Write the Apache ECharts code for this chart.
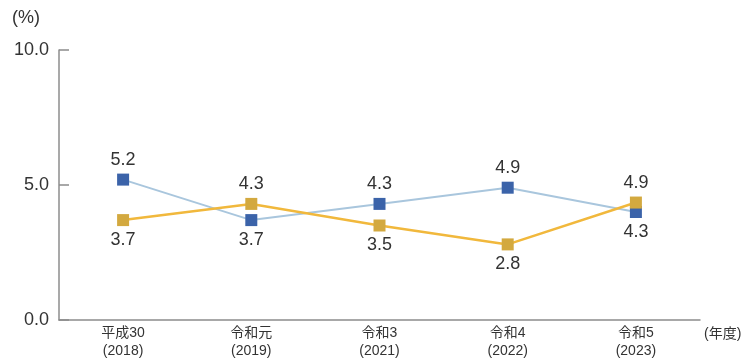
<!DOCTYPE html>
<html><head><meta charset="utf-8">
<script src="https://cdn.jsdelivr.net/npm/echarts@6/dist/echarts.min.js"></script>
<style>html,body{margin:0;padding:0;background:#fff}#c{width:744px;height:360px}</style>
</head><body><div id="c"></div>
<script>
const categories = ['平成30\n(2018)', '令和元\n(2019)', '令和3\n(2021)', '令和4\n(2022)', '令和5\n(2023)'];
const blueValues = [5.2, 3.7, 4.3, 4.9, 4.0];
const blueLabels = ['5.2', '3.7', '4.3', '4.9', '4.3'];
const bluePos = ['top', 'bottom', 'top', 'top', 'bottom'];
const orangeValues = [3.7, 4.3, 3.5, 2.8, 4.35];
const orangeLabels = ['3.7', '4.3', '3.5', '2.8', '4.9'];
const orangePos = ['bottom', 'top', 'bottom', 'bottom', 'top'];
const yTicks = [0, 5, 10];

const FONT = '"Liberation Sans", "Noto Sans CJK JP", sans-serif';
function mk(vals, labels, pos) {
  return vals.map((v, i) => ({ value: v, label: { position: pos[i], formatter: labels[i] } }));
}
const chart = echarts.init(document.getElementById('c'));
chart.setOption({
  animation: false,
  textStyle: { fontFamily: FONT },
  grid: { left: 59, right: 44, top: 50, bottom: 38, containLabel: false },
  xAxis: {
    type: 'category', data: categories, boundaryGap: true,
    axisLine: { lineStyle: { color: '#8c8c8c', width: 1.5 } },
    axisTick: { inside: true, length: 9, lineStyle: { color: '#8c8c8c', width: 1.5 } },
    axisLabel: { color: '#333', fontSize: 14, lineHeight: 18, margin: 4, fontFamily: FONT }
  },
  yAxis: {
    type: 'value', min: yTicks[0], max: yTicks[yTicks.length - 1], interval: 5,
    axisLine: { show: true, lineStyle: { color: '#8c8c8c', width: 1.5 } },
    axisTick: { show: true, inside: true, length: 10, lineStyle: { color: '#8c8c8c', width: 1.5 } },
    splitLine: { show: false },
    axisLabel: { color: '#333', fontSize: 18, margin: 10, formatter: v => v.toFixed(1), fontFamily: FONT }
  },
  graphic: [
    { type: 'text', left: 12, top: 9, style: { text: '(%)', fill: '#333', font: '18px ' + FONT } },
    { type: 'text', left: 704, top: 327, style: { text: '(年度)', fill: '#333', font: '14px ' + FONT } }
  ],
  series: [
    {
      type: 'line', data: mk(blueValues, blueLabels, bluePos),
      symbol: 'rect', symbolSize: 12,
      lineStyle: { color: '#a9c6dd', width: 2 },
      itemStyle: { color: '#3b63a9' },
      label: { show: true, color: '#333', fontSize: 18, distance: 5, fontFamily: FONT },
      z: 2
    },
    {
      type: 'line', data: mk(orangeValues, orangeLabels, orangePos),
      symbol: 'rect', symbolSize: 12,
      lineStyle: { color: '#f1b83c', width: 2.5 },
      itemStyle: { color: '#d3a93f' },
      label: { show: true, color: '#333', fontSize: 18, distance: 5, fontFamily: FONT },
      z: 3
    }
  ]
});
</script></body></html>
